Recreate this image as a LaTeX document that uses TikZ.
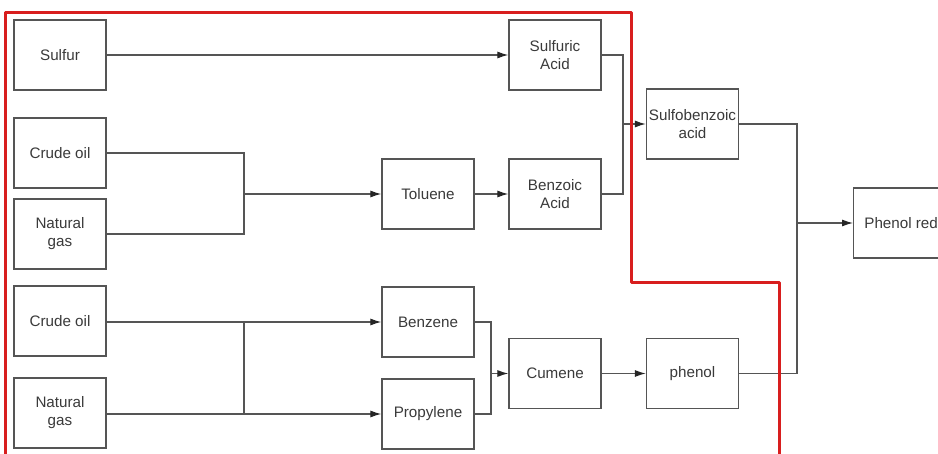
\documentclass[tikz,border=0pt]{standalone}
\usepackage{fontspec}
\setmainfont{Liberation Sans}
\usetikzlibrary{arrows.meta}
\definecolor{boxline}{HTML}{555555}
\definecolor{txt}{HTML}{3A3A3A}
\definecolor{redline}{HTML}{D81E1E}
\tikzset{
  procbox/.style={draw=boxline, line width=1.3pt, fill=white, minimum width=92pt, minimum height=70pt,
    inner sep=0pt, align=center, text=txt, font=\fontsize{15.2}{18}\selectfont},
  conn/.style={draw=boxline, line width=1.1pt},
  arr/.style={conn, -{Latex[length=11pt,width=7pt,color=black!85]}},
  outline/.style={draw=redline, line width=3pt, line join=round}
}
\begin{document}
\begin{tikzpicture}[x=1pt,y=-1pt]
\useasboundingbox[fill=white] (0,0) rectangle (938,454);
% boxes
\node[procbox] (sulfur) at (60,55) {Sulfur};
\node[procbox] (crude1) at (60,153) {Crude oil};
\node[procbox] (gas1) at (60,234) {Natural\\gas};
\node[procbox] (crude2) at (60,321) {Crude oil};
\node[procbox] (gas2) at (60,413) {Natural\\gas};
\node[procbox] (sacid) at (555,55) {Sulfuric\\Acid};
\node[procbox] (toluene) at (428,194) {Toluene};
\node[procbox] (bacid) at (555,194) {Benzoic\\Acid};
\node[procbox] (benzene) at (428,322) {Benzene};
\node[procbox] (propylene) at (428,414) {Propylene};
\node[procbox] (cumene) at (555,373.5) {Cumene};
\node[procbox] (phenol) at (692.5,373.5) {phenol};
\node[procbox] (sulfo) at (692.5,124) {Sulfobenzoic\\acid};
\node[procbox, anchor=west] (phred) at (853,223) {\hspace*{3pt}Phenol red\hfill};
% junction coordinates
\coordinate (j1) at (244,194);
\coordinate (j2) at (623,124);
\coordinate (j3) at (491,373.5);
\coordinate (j4) at (797,223);
\coordinate (j5) at (244,322);
% connectors
\draw[arr] (sulfur.east) -- (sulfur.east -| sacid.west);
\draw[conn] (crude1.east) -| (j1) |- (gas1.east);
\draw[arr] (j1) -- (toluene.west);
\draw[arr] (toluene.east) -- (bacid.west);
\draw[conn] (sacid.east |- sulfur.east) -| (j2) |- (bacid.east);
\draw[arr] (j2) -- (sulfo.west);
\draw[conn] (sulfo.east) -| (j4) |- (phenol.east);
\draw[arr] (j4) -- (phred.west);
\draw[arr] (crude2.east |- benzene.west) -- (benzene.west);
\draw[conn] (j5) -- (j5 |- propylene.west);
\draw[arr] (gas2.east |- propylene.west) -- (propylene.west);
\draw[conn] (benzene.east) -| (j3) |- (propylene.east);
\draw[arr] (j3) -- (cumene.west);
\draw[arr] (cumene.east) -- (phenol.west);
% red outline
\draw[outline] (5,456) -- (5,12.5) -- (631.5,12.5) -- (631.5,282.5) -- (779.5,282.5) -- (779.5,456);
\end{tikzpicture}
\end{document}
